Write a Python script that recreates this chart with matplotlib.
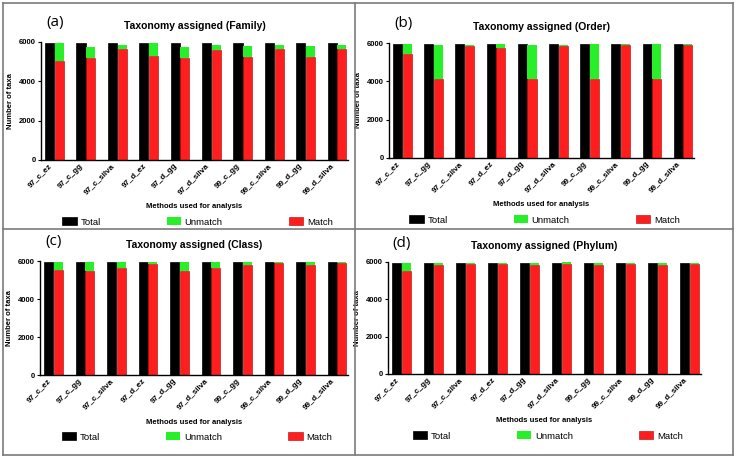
import numpy as np
import matplotlib
matplotlib.use("Agg")
import matplotlib.pyplot as plt
from matplotlib.lines import Line2D

plt.rcParams['font.family'] = ['Liberation Sans', 'DejaVu Sans']

methods = ["97_c_ez", "97_c_gg", "97_c_silva", "97_d_ez", "97_d_gg",
           "97_d_silva", "99_c_gg", "99_c_silva", "99_d_gg", "99_d_silva"]
legend_labels = ["Total", "Unmatch", "Match"]

total = [5940] * 10

family_match = [5010, 5180, 5640, 5300, 5180, 5610, 5235, 5640, 5235, 5640]
family_unmatch = [930, 550, 190, 640, 550, 220, 545, 220, 545, 220]

order_match = [5420, 4140, 5860, 5740, 4140, 5860, 4140, 5880, 4140, 5880]
order_unmatch = [520, 1770, 50, 200, 1770, 50, 1800, 60, 1800, 60]

class_match = [5545, 5475, 5650, 5860, 5475, 5650, 5770, 5895, 5770, 5895]
class_unmatch = [395, 465, 290, 80, 465, 290, 170, 45, 170, 45]

phylum_match = [5540, 5820, 5910, 5875, 5820, 5910, 5820, 5910, 5820, 5910]
phylum_unmatch = [400, 110, 25, 65, 110, 90, 110, 30, 110, 30]

W, H = 737, 458
fig = plt.figure(figsize=(W / 100, H / 100), dpi=100)

# panel: (letter, title, match, unmatch, axes box in px: x0, x1, ytop, ybottom)
panels = [
    ("(a)", "Taxonomy assigned (Family)", family_match, family_unmatch, (41, 348, 42, 160)),
    ("(b)", "Taxonomy assigned (Order)", order_match, order_unmatch, (389, 694, 43, 158)),
    ("(c)", "Taxonomy assigned (Class)", class_match, class_unmatch, (40, 348, 261, 375)),
    ("(d)", "Taxonomy assigned (Phylum)", phylum_match, phylum_unmatch, (388, 701, 262, 374)),
]

black = "#000000"
green = "#28f028"
red = "#ff1e1e"
x = np.arange(len(methods))
bw = 0.29
off = 0.155

for letter, title, match, unmatch, (x0, x1, yt, yb) in panels:
    ax = fig.add_axes([x0 / W, 1 - yb / H, (x1 - x0) / W, (yb - yt) / H])
    h_tot = ax.bar(x - off, total, bw, color=black, edgecolor=black, linewidth=0.5)
    h_match = ax.bar(x + off, match, bw, color=red, edgecolor="#b00000", linewidth=0.4)
    h_un = ax.bar(x + off, unmatch, bw, bottom=match, color=green, linewidth=0)
    ax.set_xlim(-0.43, len(methods) - 0.65)
    ax.set_ylim(0, 6000)
    ax.set_yticks([0, 2000, 4000, 6000])
    ax.tick_params(axis='y', labelsize=5.5, length=2.5, width=0.8, pad=1)
    ax.tick_params(axis='x', length=0, pad=1.5)
    for lab in ax.get_yticklabels():
        lab.set_fontweight('bold')
    ax.set_xticks(x - 0.2)
    ax.set_xticklabels(methods, rotation=45, ha='right', rotation_mode='anchor',
                       fontsize=5.8, fontweight='bold')
    for s in ['top', 'right']:
        ax.spines[s].set_visible(False)
    for s in ['left', 'bottom']:
        ax.spines[s].set_linewidth(1.0)
    ax.set_ylabel("Number of taxa", fontsize=5.5, fontweight='bold', labelpad=4)
    h_ax = yb - yt
    ax.text(0.5, -(47 / h_ax), "Methods used for analysis", transform=ax.transAxes,
            ha='center', va='center', fontsize=5.5, fontweight='bold')
    ax.text(0.5, 1 + 16 / h_ax, title, transform=ax.transAxes, ha='center',
            va='center', fontsize=7.5, fontweight='bold')
    ax.text(14 / (x1 - x0), 1 + 19 / h_ax, letter, transform=ax.transAxes,
            ha='center', va='center', fontsize=11, family=['Open Sans', 'DejaVu Sans'])
    ax.legend([h_tot, h_un, h_match], legend_labels, ncol=3, frameon=False,
              loc='center', bbox_to_anchor=(0.51, -(62 / h_ax)), fontsize=6.8,
              handlelength=1.5, handleheight=0.9, handletextpad=0.4,
              columnspacing=7.0)

# gray panel frame
gray = "#7a7a7a"
fx = lambda px: px / W
fy = lambda py: 1 - py / H
frame = [
    ([3, 733], [3, 3]), ([3, 733], [455, 455]),
    ([3, 3], [3, 455]), ([733, 733], [3, 455]),
    ([355, 355], [3, 455]), ([3, 733], [229, 229]),
]
for xs, ys in frame:
    fig.add_artist(Line2D([fx(v) for v in xs], [fy(v) for v in ys],
                          color=gray, linewidth=1.2))

fig.savefig("out.png", dpi=100)
